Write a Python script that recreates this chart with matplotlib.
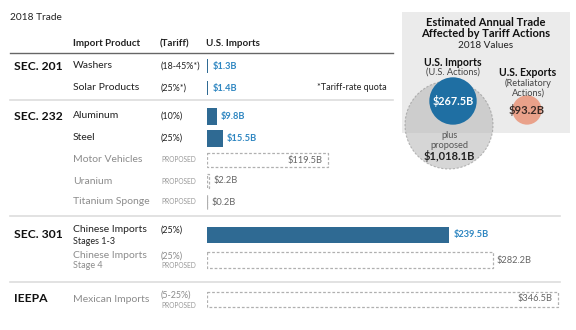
import matplotlib.pyplot as plt
from matplotlib.patches import Rectangle, Circle

plt.rcParams['font.family'] = ['Lato', 'DejaVu Sans']

# data
products = ["Washers", "Solar Products", "Aluminum", "Steel", "Motor Vehicles",
            "Uranium", "Titanium Sponge", "Chinese Imports", "Chinese Imports",
            "Mexican Imports"]
subtitles = ["", "", "", "", "", "", "", "Stages 1-3", "Stage 4", ""]
tariffs = ["(18-45%*)", "(25%*)", "(10%)", "(25%)", "", "", "", "(25%)", "(25%)", "(5-25%)"]
values = [1.3, 1.4, 9.8, 15.5, 119.5, 2.2, 0.2, 239.5, 282.2, 346.5]
proposed = [False, False, False, False, True, True, True, False, True, True]
sections = ["SEC. 201", "SEC. 232", "SEC. 301", "IEEPA"]
section_first_row = [0, 2, 7, 9]

imports_total = 267.5
imports_proposed = 1018.1
exports_total = 93.2

# layout (pixels)
W, H = 576, 330
row_y = [66, 88, 116, 138, 160, 181, 202, 235, 260, 299]
bar_h = [14, 14, 17, 17, 14, 14, 14, 16, 16, 15]
x_prod, x_tar, x_bar = 73, 160, 207
px_per_b = 1.012
k = 1.12  # font scale

blue = '#2f6a93'
label_blue = '#2e86c1'
gray_txt = '#8c8c8c'
dark = '#222222'

fig = plt.figure(figsize=(W / 100, H / 100), dpi=100)
bg = fig.add_axes([0, 0, 1, 1])
bg.set_xlim(0, W)
bg.set_ylim(H, 0)
bg.axis('off')

# bar axes in data units (billions)
bar_w_px = W - x_bar
bx = fig.add_axes([x_bar / W, 0, bar_w_px / W, 1])
bx.set_xlim(0, bar_w_px / px_per_b)
bx.set_ylim(H, 0)
bx.axis('off')

bg.text(10, 17, "2018 Trade", fontsize=6.5 * k, color=dark, va='center')

# header
bg.text(x_prod, 44, "Import Product", fontsize=6.3 * k, fontweight='bold', color=dark, va='center')
bg.text(x_tar, 44, "(Tariff)", fontsize=6.3 * k, fontweight='bold', color=dark, va='center')
bg.text(206, 44, "U.S. Imports", fontsize=6.3 * k, fontweight='bold', color=dark, va='center')
bg.plot([10, 393], [52.5, 52.5], color='#666666', lw=1)

# separators
for y, x1 in [(99.5, 393), (216, 560), (282, 560)]:
    bg.plot([10, x1], [y, y], color='#dddddd', lw=1.2)

for name, i in zip(sections, section_first_row):
    bg.text(14, row_y[i], name, fontsize=7.8 * k, fontweight='bold', color='#111111', va='center')

for i, (p, s, t, v, prop) in enumerate(zip(products, subtitles, tariffs, values, proposed)):
    y = row_y[i]
    col = gray_txt if prop else dark
    py = y - 5 if s else y
    bg.text(x_prod, py, p, fontsize=7.5, color=col, va='center')
    if s:
        bg.text(x_prod, py + 11, s, fontsize=6.5, color=col, va='center')
    if t:
        ty = y - 4 if prop else py
        bg.text(x_tar + 1, ty, t, fontsize=6.4, color=col, va='center')
        if prop:
            bg.text(x_tar + 1, ty + 10, "PROPOSED", fontsize=4.8, color='#999999', va='center')
    elif prop:
        bg.text(x_tar + 1, y, "PROPOSED", fontsize=4.8, color='#999999', va='center')

    h = bar_h[i]
    if prop:
        bx.barh(y, v, height=h, left=0, facecolor='none', edgecolor='#b0b0b0',
                lw=0.9, ls=(0, (2.2, 1.5)))
        lab = f"${v:.1f}B"
        if v > 100 and v != 282.2:
            bx.text(v - 5, y, lab, fontsize=6.7, color='#666666', va='center', ha='right')
        else:
            bx.text(v + 4, y, lab, fontsize=6.7, color='#666666', va='center', ha='left')
    else:
        bx.barh(y, max(v, 0.6), height=h, left=0, color=blue, lw=0)
        bx.text(max(v, 1.6) + 4, y, f"${v:.1f}B", fontsize=6.7, fontweight='bold',
                color=label_blue, va='center', ha='left')

bg.text(317, 88, "*Tariff-rate quota", fontsize=6.5, color=dark, va='center')

# right panel
bg.add_patch(Rectangle((402, 12), 168, 121, facecolor='#ebebeb', edgecolor='none', zorder=1))
bg.text(486, 22, "Estimated Annual Trade", fontsize=8, fontweight='bold',
        color='#111111', ha='center', va='center', zorder=5)
bg.text(486, 33.5, "Affected by Tariff Actions", fontsize=8, fontweight='bold',
        color='#111111', ha='center', va='center', zorder=5)
bg.text(486, 45, "2018 Values", fontsize=7.2, color=dark, ha='center', va='center', zorder=5)

# circle sizes by area
r_prop = 44.0
r_imp = r_prop * (imports_total / imports_proposed) ** 0.5 * 1.05
r_exp = r_prop * (exports_total / imports_proposed) ** 0.5 * 1.1
bg.add_patch(Circle((449, 125), r_prop, facecolor='#b5b5b5', alpha=0.55,
                    edgecolor='#888888', lw=0.8, ls=(0, (2, 1.5)), zorder=2))
bg.add_patch(Circle((453, 101), r_imp, facecolor='#1f6fa3', edgecolor='none', zorder=3))
bg.add_patch(Circle((527, 110), r_exp, facecolor='#e9a18a', edgecolor='none', zorder=3))

bg.text(453, 62, "U.S. Imports", fontsize=7.6, fontweight='bold', color='#111111',
        ha='center', va='center', zorder=5)
bg.text(453, 72, "(U.S. Actions)", fontsize=6.7, color='#444444', ha='center', va='center', zorder=5)
bg.text(453, 101, f"${imports_total:.1f}B", fontsize=7.8, fontweight='bold', color='white',
        ha='center', va='center', zorder=5)
bg.text(449, 135, "plus", fontsize=6.7, color='#555555', ha='center', va='center', zorder=5)
bg.text(449, 145, "proposed", fontsize=6.7, color='#555555', ha='center', va='center', zorder=5)
bg.text(449, 156, f"${imports_proposed:,.1f}B", fontsize=8, fontweight='bold', color='#222222',
        ha='center', va='center', zorder=5)

bg.text(528, 72, "U.S. Exports", fontsize=7.6, fontweight='bold', color='#111111',
        ha='center', va='center', zorder=5)
bg.text(528, 83, "(Retaliatory", fontsize=6.7, color='#444444', ha='center', va='center', zorder=5)
bg.text(528, 93, "Actions)", fontsize=6.7, color='#444444', ha='center', va='center', zorder=5)
bg.text(527, 110, f"${exports_total:.1f}B", fontsize=8, fontweight='bold', color='#3a2a25',
        ha='center', va='center', zorder=5)

fig.savefig("out.png", dpi=100)
